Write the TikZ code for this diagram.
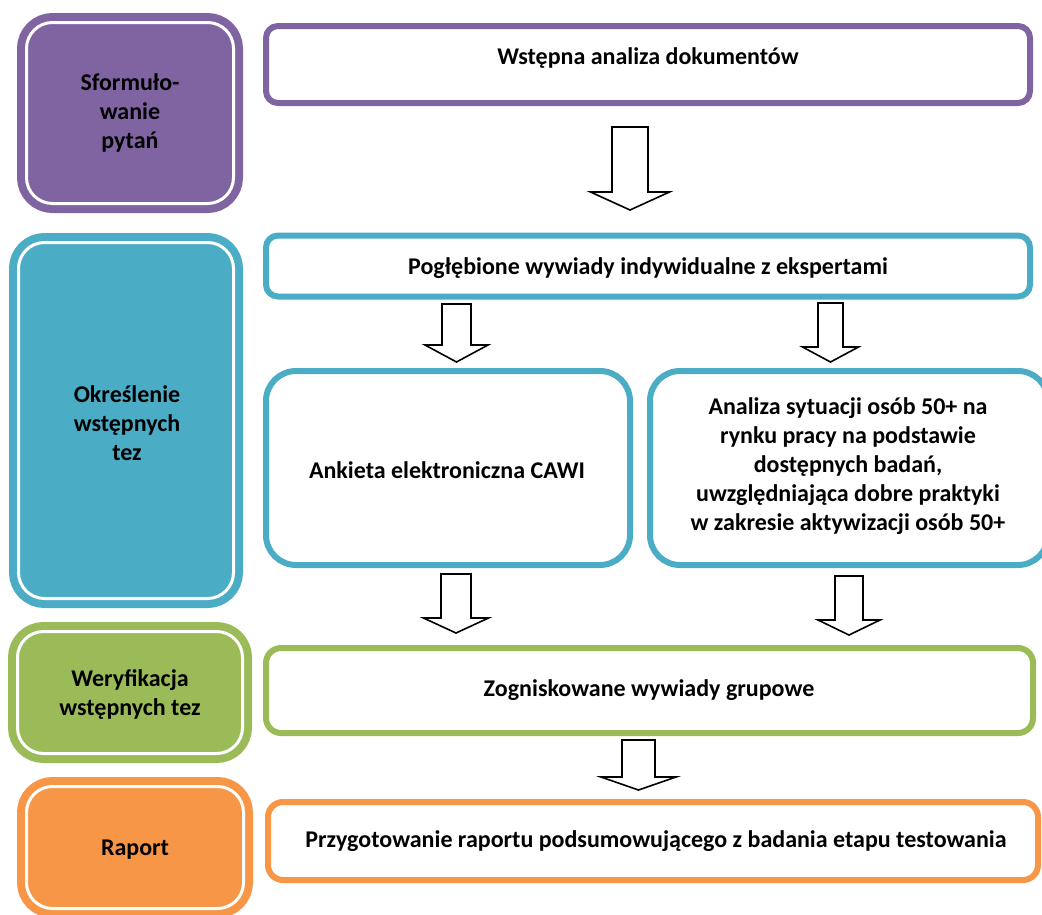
\documentclass[tikz,border=0pt]{standalone}
\usepackage{fontspec}
\setmainfont{Carlito}
\definecolor{cpurple}{HTML}{8064A2}
\definecolor{cteal}{HTML}{4BACC6}
\definecolor{cgreen}{HTML}{9BBB59}
\definecolor{corange}{HTML}{F79646}
\tikzset{
  lbl/.style={font=\fontsize{24}{29}\selectfont\bfseries, align=center, text=black},
  phase/.style={rounded corners=26pt, fill=#1, draw=#1, line width=8pt, double=white, double distance=3pt, inner sep=0pt, outer sep=0pt},
  stepbox/.style={rounded corners=#1, draw, fill=white, line width=6pt, inner sep=0pt, outer sep=0pt},
  blk/.style={draw=black, fill=white, line width=1.6pt, line join=miter},
}
\newcommand\blockarr[6]{% cx, top, shaft half, shoulder, head half, tip
  \draw[blk] (#1-#3,#2) -- (#1+#3,#2) -- (#1+#3,#4) -- (#1+#5,#4) -- (#1,#6) -- (#1-#5,#4) -- (#1-#3,#4) -- cycle;}
\begin{document}
\begin{tikzpicture}[x=1pt,y=-1pt]
\useasboundingbox (0,0) rectangle (1042,914);
\clip (0,0) rectangle (1042,914);
% left phase boxes
\node[phase=cpurple, minimum width=207pt, minimum height=181pt] (p1) at (130,113) {};
\node[lbl] (p1t) at (130,113) {Sformuło-\\wanie\\pytań};
\node[phase=cteal, minimum width=215pt, minimum height=356pt] (p2) at (126,420.5) {};
\node[lbl] (p2t) at (127,423) {Określenie\\wstępnych\\tez};
\node[phase=cgreen, minimum width=225pt, minimum height=122pt] (p3) at (130,692.5) {};
\node[lbl] (p3t) at (130,695) {Weryfikacja\\wstępnych tez};
\node[phase=corange, minimum width=217pt, minimum height=122pt] (p4) at (135,847.5) {};
\node[lbl] (p4t) at (135,850) {Raport};
% right step boxes
\node[stepbox=12pt, draw=cpurple, minimum width=764pt, minimum height=77pt] (b1) at (648,64.5) {};
\node[lbl] (b1t) at (648,58) {Wstępna analiza dokumentów};
\node[stepbox=12pt, draw=cteal, minimum width=764pt, minimum height=61pt] (b2) at (648,266) {};
\node[lbl] (b2t) at (648,268) {Pogłębione wywiady indywidualne z ekspertami};
\node[stepbox=30pt, draw=cteal, minimum width=364pt, minimum height=194pt] (b3) at (448,468) {};
\node[lbl] (b3t) at (447,470) {Ankieta elektroniczna CAWI};
\node[stepbox=30pt, draw=cteal, minimum width=398pt, minimum height=194pt] (b4) at (849,468) {};
\node[lbl] (b4t) at (848,466) {Analiza sytuacji osób 50+ na\\rynku pracy na podstawie\\dostępnych badań,\\uwzględniająca dobre praktyki\\w zakresie aktywizacji osób 50+};
\node[stepbox=15pt, draw=cgreen, minimum width=767pt, minimum height=85pt] (b5) at (649.5,690.5) {};
\node[lbl] (b5t) at (649,690) {Zogniskowane wywiady grupowe};
\node[stepbox=15pt, draw=corange, minimum width=770pt, minimum height=78pt] (b6) at (653,841) {};
\node[lbl] (b6t) at (656,841) {Przygotowanie raportu podsumowującego z badania etapu testowania};
% block arrows
\blockarr{630}{127}{18}{192}{39.5}{210}
\blockarr{456.5}{304}{14.5}{345}{31.5}{362}
\blockarr{830.5}{303}{12.5}{347}{28}{362}
\blockarr{456}{574}{15}{618}{32.5}{633}
\blockarr{849}{576}{14}{620}{31}{635}
\blockarr{638.5}{740}{16.5}{777}{37.5}{790}
\end{tikzpicture}
\end{document}
